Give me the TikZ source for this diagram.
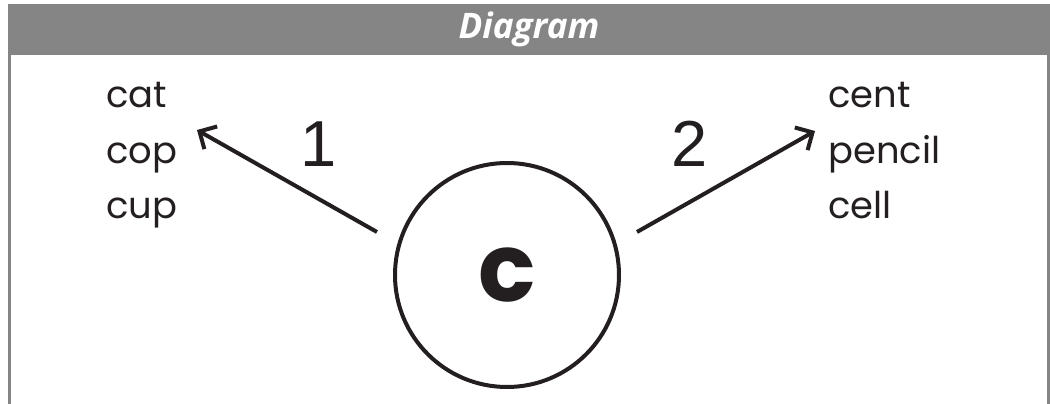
\documentclass[tikz,border=0pt]{standalone}
\usepackage{fontspec}
\setmainfont{Poppins}
\newfontfamily\numfont{Liberation Sans}
\newfontfamily\headfont{Open Sans}
\usetikzlibrary{arrows.meta}
\definecolor{ink}{HTML}{231F20}
\definecolor{bar}{HTML}{858585}
\tikzstyle{word}=[anchor=base west, inner sep=0pt, text=ink,
	font=\fontsize{21}{25}\selectfont]
\tikzstyle{number}=[anchor=base, inner sep=0pt, text=ink,
	font=\numfont\fontsize{37}{44}\selectfont]
\tikzstyle{letter}=[circle, draw=ink, line width=0.08cm, minimum size=4.48cm,
	inner sep=0pt, text=ink, font=\bfseries\fontsize{54}{60}\selectfont]
\tikzstyle{title}=[fill=bar, text=white, minimum width=20.84cm,
	minimum height=1.02cm, inner sep=0pt,
	font=\headfont\bfseries\itshape\fontsize{20}{24}\selectfont]
\tikzstyle{line}=[draw, ink, line width=0.08cm, shorten <=0.47cm,
	-{Straight Barb[length=0.26cm,width=0.52cm]}]
\tikzstyle{frame}=[draw=bar, line width=0.06cm]

\begin{document}
\begin{tikzpicture}
	\useasboundingbox (0,0) rectangle (21,8.08);

	% Title bar and the sides of the box
	\node (head) [title] at (10.58,7.49) {Diagram};
	\draw[frame] (0.19,7.0) -- (0.19,-0.1);
	\draw[frame] (20.97,7.0) -- (20.97,-0.1);

	\node (letter) [letter] at (10.14,2.58) {c};

	\path (letter.center)+(-8.02,3.34) node (cat)[word]{cat};
	\path (cat.base west)+(0,-1.11) node (cop)[word]{cop};
	\path (cop.base west)+(0,-1.11) node (cup)[word]{cup};

	\path (letter.center)+( 6.42,3.34) node (cent)[word]{cent};
	\path (cent.base west)+(0,-1.11) node (pencil)[word]{pencil};
	\path (pencil.base west)+(0,-1.11) node (cell)[word]{cell};

	\path (letter.center)+(-3.76,2.16) node (one)[number]{1};
	\path (letter.center)+( 3.66,2.16) node (two)[number]{2};

	% Draw arrows between elements
	\path (letter.center)+(-6.20,2.90) coordinate (tip1);
	\path (letter.center)+( 6.16,2.88) coordinate (tip2);
	\path [line] (letter.164) -- (tip1);
	\path [line] (letter.16) -- (tip2);

\end{tikzpicture}
\end{document}
